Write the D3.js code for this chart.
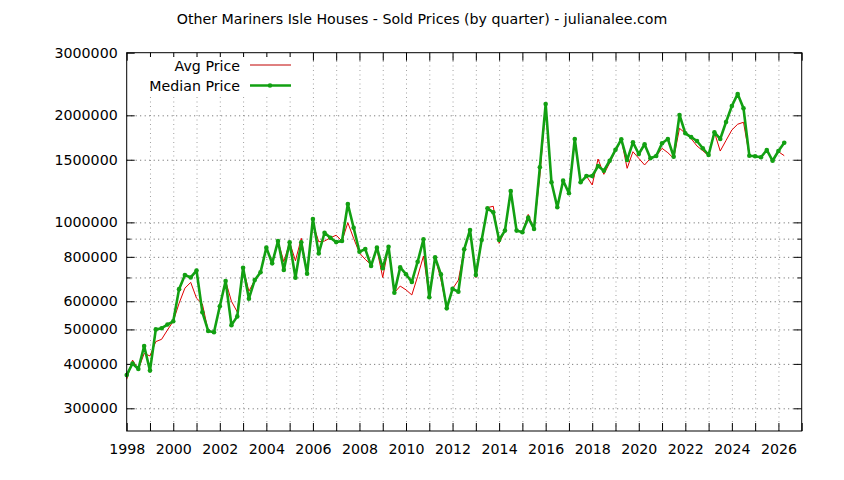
<!DOCTYPE html>
<html><head><meta charset="utf-8">
<script src="https://cdn.jsdelivr.net/npm/d3@7/dist/d3.min.js"></script>
<style>body{margin:0;background:#fff} text{font-family:"DejaVu Sans",sans-serif}</style>
</head><body>
<script>
const chartTitle = "Other Mariners Isle Houses - Sold Prices (by quarter) - julianalee.com";
const seriesNames = ["Avg Price", "Median Price"];
const startYear = 1998; // first quarter = 1998 Q1, one value per quarter

const medianPrice = [
 372000,401000,387000,449000,383000,500000,504000,516000,527000,649000,
 711000,700000,732000,559000,495000,491000,581000,684000,514000,544000,
 745000,610000,688000,724000,849000,767000,886000,735000,879000,699000,
 879000,717000,1022000,818000,935000,905000,880000,886000,1126000,966000,
 827000,841000,754000,849000,743000,854000,634000,747000,715000,680000,
 775000,896000,616000,797000,714000,573000,650000,638000,840000,952000,
 711000,892000,1095000,1067000,892000,948000,1225000,948000,938000,1031000,
 958000,1428000,2152000,1296000,1103000,1310000,1207000,1716000,1296000,1350000,
 1350000,1440000,1397000,1490000,1600000,1712000,1497000,1679000,1557000,1658000,
 1514000,1537000,1669000,1716000,1530000,2004000,1780000,1737000,1694000,1616000,
 1547000,1792000,1716000,1915000,2124000,2297000,2093000,1540000,1535000,1524000,
 1598000,1490000,1587000,1675000
];
const avgPrice = [
 362000,410000,386000,428000,421000,462000,469000,498000,527000,592000,
 653000,678000,612000,590000,495000,491000,581000,684000,600000,560000,
 745000,640000,688000,724000,849000,775000,886000,775000,879000,780000,
 902000,717000,994000,882000,886000,905000,920000,886000,998000,902000,
 820000,787000,760000,840000,700000,854000,634000,662000,646000,625000,
 705000,804000,616000,797000,690000,573000,650000,688000,840000,952000,
 700000,892000,1100000,1110000,873000,948000,1225000,948000,938000,1053000,
 958000,1350000,2120000,1296000,1103000,1310000,1207000,1716000,1296000,1350000,
 1274000,1507000,1365000,1470000,1590000,1712000,1419000,1580000,1514000,1450000,
 1514000,1537000,1615000,1570000,1514000,1839000,1780000,1720000,1640000,1590000,
 1540000,1792000,1587000,1700000,1819000,1888000,1912000,1540000,1535000,1524000,
 1598000,1490000,1580000,1540000
];
const yTickValues = [300000,400000,500000,600000,700000,800000,900000,1000000,1500000,2000000,3000000];
const yTickLabels = ["300000","400000","500000","600000","","800000","","1000000","1500000","2000000","3000000"];
const xDomain = [1998, 2027];
const yDomain = [259000, 3000000];
const xTickYears = d3.range(1998, 2028);
const xLabelYears = [1998,2000,2002,2004,2006,2008,2010,2012,2014,2016,2018,2020,2022,2024,2026];

const W = 844, H = 480;
const m = {left:126.7, right:42.3, top:52.7, bottom:49};
const iw = W - m.left - m.right, ih = H - m.top - m.bottom;
const FS = "14.2px";

const svg = d3.select("body").append("svg").attr("width", W).attr("height", H);
const g = svg.append("g").attr("transform", `translate(${m.left},${m.top})`);

const x = d3.scaleLinear().domain(xDomain).range([0, iw]);
const y = d3.scaleLog().domain(yDomain).range([ih, 0]);

const quarterX = i => startYear + i / 4;

// grid
const gx = g.append("g").attr("transform", `translate(0,${ih})`)
  .call(d3.axisBottom(x).tickValues(xTickYears.filter(v => v > xDomain[0] && v < xDomain[1])).tickSize(-ih).tickFormat(""));
gx.select(".domain").remove();
gx.selectAll("line").attr("stroke", "#a0a0a0").attr("stroke-dasharray", "1,3.5");
const gy = g.append("g")
  .call(d3.axisLeft(y).tickValues(yTickValues.filter(v => v < yDomain[1])).tickSize(-iw).tickFormat(""));
gy.select(".domain").remove();
gy.selectAll("line").attr("stroke", "#606060").attr("stroke-dasharray", "1,3.5");

// axes (inward ticks, mirrored)
function styleAxis(sel) {
  sel.select(".domain").remove();
  sel.selectAll("line").attr("stroke", "#000").attr("stroke-width", 1);
  sel.selectAll("text").attr("fill", "#000").attr("font-size", FS);
}
const fmtY = v => yTickLabels[yTickValues.indexOf(v)];
const bottomAx = g.append("g").attr("transform", `translate(0,${ih})`)
  .call(d3.axisBottom(x).tickValues(xTickYears).tickSizeInner(-8).tickSizeOuter(0).tickPadding(13)
    .tickFormat(v => xLabelYears.includes(v) ? String(v) : ""));
styleAxis(bottomAx);
const topAx = g.append("g")
  .call(d3.axisTop(x).tickValues(xTickYears).tickSizeInner(-8).tickSizeOuter(0).tickFormat(""));
styleAxis(topAx);
const leftAx = g.append("g")
  .call(d3.axisLeft(y).tickValues(yTickValues).tickSizeInner(-8).tickSizeOuter(0).tickPadding(9).tickFormat(fmtY));
styleAxis(leftAx);
const rightAx = g.append("g").attr("transform", `translate(${iw},0)`)
  .call(d3.axisRight(y).tickValues(yTickValues).tickSizeInner(-8).tickSizeOuter(0).tickFormat(""));
styleAxis(rightAx);
[leftAx, rightAx].forEach((ax, k) => {
  ax.selectAll(".tick").filter(d => fmtY(d) === "").select("line").attr("x2", k === 0 ? 4 : -4);
});

// legend background
g.append("rect").attr("x", 148 - m.left).attr("y", 57 - m.top).attr("width", 149).attr("height", 37).attr("fill", "#fff");

// series
const line = d3.line().x((d, i) => x(quarterX(i))).y(d => y(d));
g.append("path").datum(avgPrice).attr("d", line).attr("fill", "none")
  .attr("stroke", "#e00000").attr("stroke-width", 1).attr("stroke-linejoin", "round");
g.append("path").datum(medianPrice).attr("d", line).attr("fill", "none")
  .attr("stroke", "#12a012").attr("stroke-width", 2.6).attr("stroke-linejoin", "round");
g.selectAll("circle.med").data(medianPrice).join("circle").attr("class", "med")
  .attr("cx", (d, i) => x(quarterX(i))).attr("cy", d => y(d)).attr("r", 2.3).attr("fill", "#12a012");

// frame
g.append("rect").attr("width", iw).attr("height", ih).attr("fill", "none").attr("stroke", "#000").attr("stroke-width", 1);

// legend
const lg = svg.append("g");
lg.append("text").attr("x", 240).attr("y", 70.5).attr("text-anchor", "end").attr("font-size", FS).text(seriesNames[0]);
lg.append("line").attr("x1", 250).attr("x2", 291).attr("y1", 65).attr("y2", 65).attr("stroke", "#c00000").attr("stroke-width", 1);
lg.append("text").attr("x", 240).attr("y", 90.5).attr("text-anchor", "end").attr("font-size", FS).text(seriesNames[1]);
lg.append("line").attr("x1", 250).attr("x2", 291).attr("y1", 85.5).attr("y2", 85.5).attr("stroke", "#12a012").attr("stroke-width", 2.6);
lg.append("circle").attr("cx", 270).attr("cy", 85.5).attr("r", 2.3).attr("fill", "#12a012");

// title
svg.append("text").attr("x", 422).attr("y", 23.5).attr("text-anchor", "middle").attr("font-size", FS).text(chartTitle);
</script>
</body></html>
